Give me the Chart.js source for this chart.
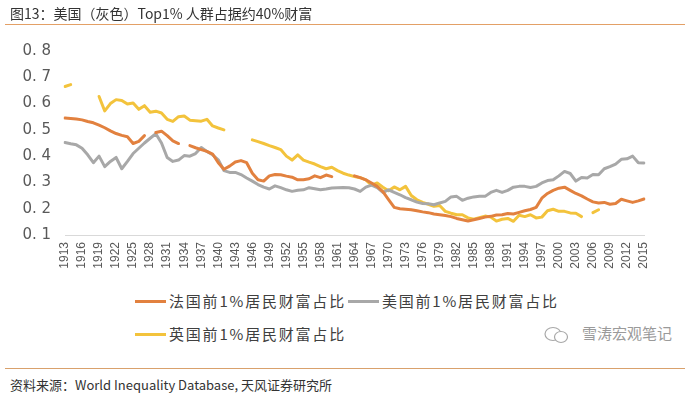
<!DOCTYPE html>
<html>
<head>
<meta charset="utf-8">
<script src="https://cdn.jsdelivr.net/npm/chart.js@4"></script>
<style>
  body { margin: 0; background: #fff; font-family: "Noto Sans CJK SC", "Noto Sans", sans-serif; }
  #page { position: relative; width: 689px; height: 399px; overflow: hidden; }
  .title { position: absolute; left: 10px; top: 3px; font-size: 14px; color: #333; }
  .rule { position: absolute; left: 5px; width: 680px; height: 1px; background: #E3A066; }
  #chartBox { position: absolute; left: 0; top: 0; }
  .legend { position: absolute; font-size: 15px; color: #404040; letter-spacing: 1.8px; white-space: nowrap; }
  .legend span.sw { display: inline-block; width: 31px; height: 3px; vertical-align: middle; margin-right: 3px; position: relative; top: -1px; }
  .mark { position: absolute; left: 542px; top: 322px; font-size: 15px; color: #9a9a9a; white-space: nowrap; }
  .source { position: absolute; left: 10px; top: 375px; font-size: 13px; color: #333; }
</style>
</head>
<body>
<div id="page">
  <div class="title">图13：美国（灰色）Top1% 人群占据约40%财富</div>
  <div class="rule" style="top:24px"></div>
  <canvas id="lineChart" width="689" height="290"></canvas>
  <div class="legend" style="left:135px; top:290px"><span class="sw" style="background:#E2813F"></span>法国前1%居民财富占比<span class="sw" style="background:#A8A8A8; margin-left:2px"></span>美国前1%居民财富占比</div>
  <div class="legend" style="left:135px; top:323px"><span class="sw" style="background:#F3C33C"></span>英国前1%居民财富占比</div>
  <div class="mark">
    <svg width="30" height="20" viewBox="0 0 30 20" style="vertical-align:middle; margin-right:10px">
      <ellipse cx="11" cy="9" rx="8" ry="6.5" fill="none" stroke="#a8a8a8" stroke-width="1.2"/>
      <ellipse cx="19" cy="12" rx="6.5" ry="5.5" fill="#fff" stroke="#a8a8a8" stroke-width="1.2"/>
    </svg>雪涛宏观笔记</div>
  <div class="rule" style="top:368px; background:#D9A16C"></div>
  <div class="source">资料来源：World Inequality Database, 天风证券研究所</div>
</div>
<script>
// categories: every year 1913-2015, labelled every 3 years
var years = Array.from({ length: 103 }, function (_, i) { return String(1913 + i); });

// France top 1% wealth share
var franceShare = [
  0.545, 0.543, 0.541, 0.538, 0.532, 0.527, 0.518, 0.508, 0.496, 0.486,
  0.479, 0.474, 0.448, 0.456, 0.478, null, 0.490, 0.495, 0.478, 0.458,
  0.448, null, 0.440, 0.432, 0.425, 0.418, 0.408, 0.375, 0.350, 0.362,
  0.378, 0.383, 0.375, 0.335, 0.310, 0.305, 0.325, 0.330, 0.329, 0.324,
  0.320, 0.310, 0.310, 0.314, 0.325, 0.318, 0.328, 0.322, null, null,
  null, 0.325, 0.318, 0.310, 0.298, 0.285, 0.265, 0.235, 0.205, 0.200,
  0.198, 0.196, 0.192, 0.188, 0.185, 0.180, 0.177, 0.174, 0.170, 0.163,
  0.158, 0.153, 0.158, 0.163, 0.168, 0.171, 0.176, 0.177, 0.182, 0.180,
  0.186, 0.192, 0.197, 0.205, 0.240, 0.258, 0.270, 0.278, 0.282, 0.270,
  0.258, 0.249, 0.237, 0.226, 0.222, 0.224, 0.217, 0.220, 0.236, 0.230,
  0.224, 0.230, 0.237
];

// US top 1% wealth share
var usShare = [
  0.452, 0.447, 0.443, 0.430, 0.405, 0.375, 0.400, 0.360, 0.380, 0.395,
  0.352, 0.380, 0.410, 0.430, 0.450, 0.468, 0.485, 0.450, 0.395, 0.380,
  0.385, 0.402, 0.400, 0.410, 0.433, 0.418, 0.405, 0.386, 0.345, 0.338,
  0.338, 0.330, 0.317, 0.305, 0.292, 0.282, 0.275, 0.287, 0.280, 0.272,
  0.266, 0.270, 0.272, 0.280, 0.276, 0.272, 0.275, 0.279, 0.280, 0.281,
  0.280, 0.275, 0.266, 0.282, 0.290, 0.280, 0.262, 0.272, 0.262, 0.253,
  0.242, 0.234, 0.225, 0.220, 0.219, 0.215, 0.222, 0.228, 0.245, 0.247,
  0.232, 0.240, 0.245, 0.247, 0.247, 0.262, 0.270, 0.262, 0.270, 0.282,
  0.285, 0.285, 0.281, 0.285, 0.298, 0.307, 0.310, 0.325, 0.342, 0.334,
  0.305, 0.319, 0.317, 0.330, 0.329, 0.352, 0.360, 0.370, 0.388, 0.390,
  0.400, 0.375, 0.374
];

// UK top 1% wealth share
var ukShare = [
  0.665, 0.672, null, null, null, null, 0.627, 0.572, 0.600, 0.615,
  0.612, 0.598, 0.602, 0.578, 0.592, 0.567, 0.571, 0.564, 0.540, 0.532,
  0.550, 0.553, 0.537, 0.535, 0.533, 0.540, 0.515, 0.507, 0.500, null,
  null, null, null, 0.462, 0.455, 0.448, 0.440, 0.433, 0.425, 0.400,
  0.385, 0.405, 0.385, 0.377, 0.370, 0.360, 0.352, 0.358, 0.345, 0.335,
  0.328, 0.322, 0.318, 0.310, 0.290, 0.298, 0.282, 0.268, 0.283, 0.272,
  0.285, 0.250, 0.234, 0.224, 0.217, 0.209, 0.212, 0.190, 0.183, 0.177,
  0.177, 0.165, 0.160, 0.166, 0.172, 0.168, 0.153, 0.160, 0.163, 0.152,
  0.175, 0.170, 0.177, 0.165, 0.168, 0.192, 0.198, 0.190, 0.190, 0.184,
  0.183, 0.170, null, 0.185, 0.196, null, null, null, null, null,
  null, null, null
];

var yMin = 0.1;
var yMax = 0.8;
var yStep = 0.1;

var ctxLine = document.getElementById("lineChart").getContext("2d");
var lineChart = new Chart(ctxLine, {
    type: "line",
    data: {
        labels: years,
        datasets: [
            { label: "法国前1%居民财富占比", data: franceShare, borderColor: "#E2813F" },
            { label: "美国前1%居民财富占比", data: usShare, borderColor: "#A8A8A8" },
            { label: "英国前1%居民财富占比", data: ukShare, borderColor: "#F3C33C" },
        ],
    },
    options: {
        responsive: false,
        animation: false,
        spanGaps: false,
        layout: { padding: { top: 51, left: 5, right: 45, bottom: 5 } },
        elements: {
            point: { radius: 0 },
            line: { borderWidth: 3, tension: 0, borderCapStyle: "round", borderJoinStyle: "round", fill: false },
        },
        plugins: { legend: { display: false }, tooltip: { enabled: false } },
        scales: {
            x: {
                offset: false,
                grid: { display: false, drawTicks: false },
                border: { display: true, color: "#D9D9D9", width: 1 },
                afterFit: function (scale) { scale.height = 50; },
                ticks: {
                    autoSkip: false,
                    minRotation: 90,
                    maxRotation: 90,
                    padding: 7,
                    color: "#595959",
                    font: { family: "'Liberation Sans', Arial, sans-serif", size: 12 },
                    callback: function (val, idx) { return idx % 3 === 0 ? years[idx] : null; },
                },
            },
            y: {
                min: yMin,
                max: yMax,
                grid: { display: false, drawTicks: false },
                border: { display: false },
                afterFit: function (scale) { scale.width = 60; },
                ticks: {
                    stepSize: yStep,
                    padding: 14,
                    color: "#595959",
                    font: { family: "'DejaVu Sans', sans-serif", size: 15 },
                    callback: function (v) { return v.toFixed(1).replace(".", ". "); },
                },
            },
        },
    },
});
</script>
</body>
</html>
